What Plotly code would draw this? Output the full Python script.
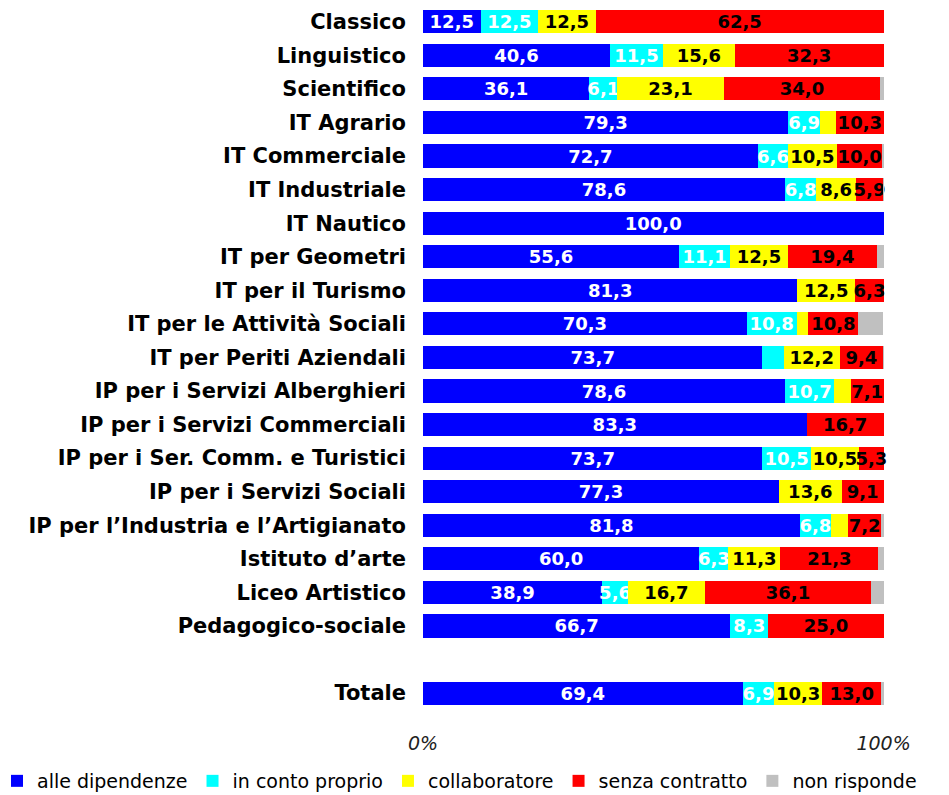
import plotly.graph_objects as go

categories = [
    "Classico", "Linguistico", "Scientifico", "IT Agrario", "IT Commerciale",
    "IT Industriale", "IT Nautico", "IT per Geometri", "IT per il Turismo",
    "IT per le Attività Sociali", "IT per Periti Aziendali",
    "IP per i Servizi Alberghieri", "IP per i Servizi Commerciali",
    "IP per i Ser. Comm. e Turistici", "IP per i Servizi Sociali",
    "IP per l’Industria e l’Artigianato", "Istituto d’arte", "Liceo Artistico",
    "Pedagogico-sociale", "Totale",
]

alle_dipendenze = [12.5, 40.6, 36.1, 79.3, 72.7, 78.6, 100.0, 55.6, 81.3, 70.3, 73.7, 78.6, 83.3, 73.7, 77.3, 81.8, 60.0, 38.9, 66.7, 69.4]
in_conto_proprio = [12.5, 11.5, 6.1, 6.9, 6.6, 6.8, 0.0, 11.1, 0.0, 10.8, 4.6, 10.7, 0.0, 10.5, 0.0, 6.8, 6.3, 5.6, 8.3, 6.9]
collaboratore = [12.5, 15.6, 23.1, 3.5, 10.5, 8.6, 0.0, 12.5, 12.5, 2.6, 12.2, 3.6, 0.0, 10.5, 13.6, 3.7, 11.3, 16.7, 0.0, 10.3]
senza_contratto = [62.5, 32.3, 34.0, 10.3, 10.0, 5.9, 0.0, 19.4, 6.3, 10.8, 9.4, 7.1, 16.7, 5.3, 9.1, 7.2, 21.3, 36.1, 25.0, 13.0]
non_risponde = [0.0, 0.0, 0.7, 0.0, 0.2, 0.1, 0.0, 1.4, 0.0, 5.4, 0.1, 0.0, 0.0, 0.0, 0.0, 0.5, 1.1, 2.7, 0.0, 0.4]

series = [
    ("alle dipendenze", alle_dipendenze, "#0000FF", "white", True),
    ("in conto proprio", in_conto_proprio, "#00FFFF", "white", True),
    ("collaboratore", collaboratore, "#FFFF00", "black", True),
    ("senza contratto", senza_contratto, "#FF0000", "black", True),
    ("non risponde", non_risponde, "#C0C0C0", "black", False),
]

# positions: one empty slot before "Totale"
ypos = list(range(len(categories) - 1)) + [len(categories)]
totals = [sum(s[1][i] for s in series) for i in range(len(categories))]

W, H = 949, 795
L, T, B = 423, 5, 65
BAR_RIGHT = 884          # pixel where 100% ends
plot_w = W - L           # plot area extends to the right edge (room for legend)
x_max = max(totals) * plot_w / (BAR_RIGHT - L)

fig = go.Figure()
for name, vals, color, tcolor, labelled in series:
    text = [(f"{v:.1f}".replace(".", ",") if (labelled and v >= 5) else "") for v in vals]
    fig.add_trace(go.Bar(
        name=name, x=vals, y=ypos, orientation="h",
        marker=dict(color=color, line=dict(width=0)),
        text=text, textposition="inside", insidetextanchor="middle",
        textangle=0,
        insidetextfont=dict(family="DejaVu Sans", size=18, color=tcolor, weight="bold"),
        cliponaxis=False, width=0.69,
    ))

fig.update_layout(
    barmode="stack",
    width=W, height=H,
    plot_bgcolor="white", paper_bgcolor="white",
    margin=dict(l=L, r=0, t=T, b=B, autoexpand=False),
    uniformtext=dict(minsize=18, mode="show"),
    font=dict(family="DejaVu Sans", color="black"),
    legend=dict(
        orientation="h", xref="paper", yref="paper",
        x=-(L + 3) / plot_w, y=-51 / (H - T - B), xanchor="left", yanchor="middle",
        font=dict(family="DejaVu Sans", size=19, color="black"),
        itemwidth=30, tracegroupgap=0, traceorder="normal",
    ),
    showlegend=True,
)
fig.update_yaxes(
    tickmode="array", tickvals=ypos, ticktext=categories,
    range=[len(categories) + 1.1, -0.5],
    showgrid=False, zeroline=False, showline=False, automargin=False,
    ticks="", ticklabelstandoff=16,
    tickfont=dict(family="DejaVu Sans", size=21, color="black", weight="bold"),
)
fig.update_xaxes(
    range=[0, x_max], tickmode="array", tickvals=[0, 100], ticktext=["0%", "100%"],
    showgrid=False, zeroline=False, showline=False, ticks="", automargin=False,
    tickfont=dict(family="DejaVu Sans", size=19, color="#222222", style="italic"),
)

fig.write_html("out.html", config={"displayModeBar": False},
               post_script="document.body.style.margin='0';")
